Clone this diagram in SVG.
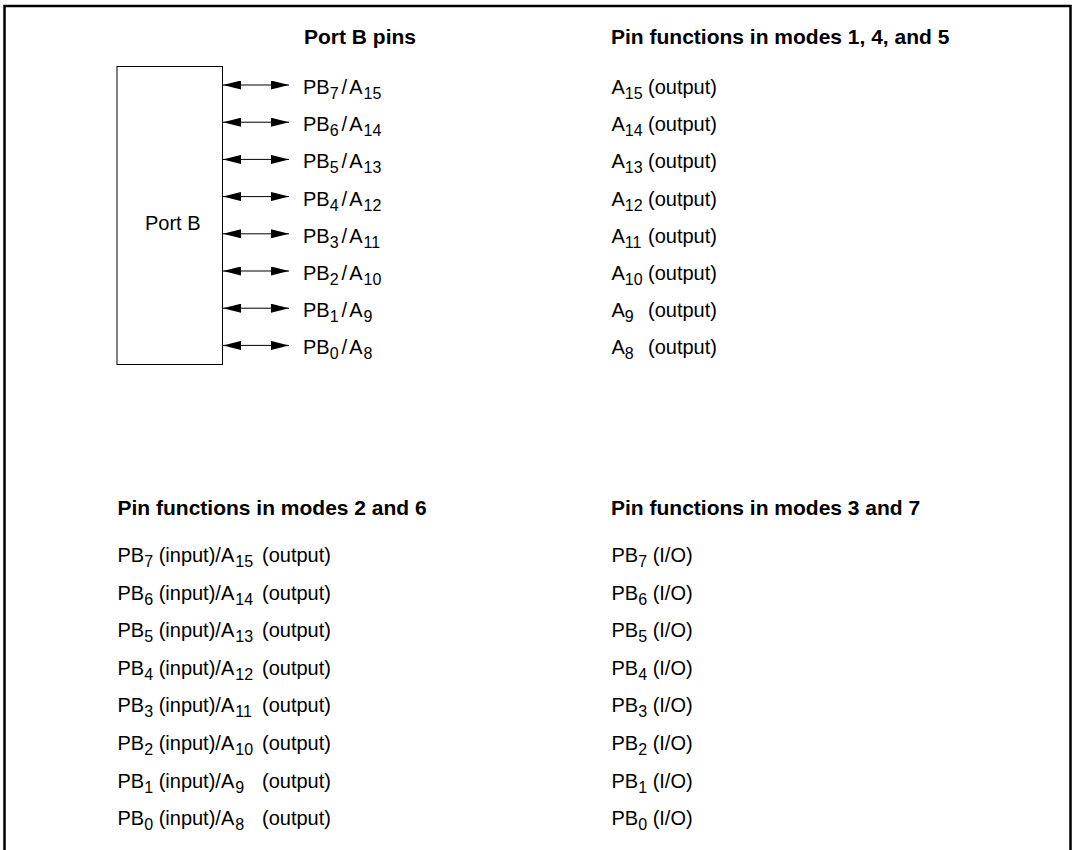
<svg xmlns="http://www.w3.org/2000/svg" width="1074" height="850" viewBox="0 0 1074 850">
<style>
text{font-family:"Liberation Sans",Arial,sans-serif;font-size:20px;fill:#000}
.h{font-weight:bold;font-size:21px}
.s{font-size:16px}
.ln{stroke:#000;stroke-width:1;fill:none}
</style>
<defs>
<marker id="ah" viewBox="0 0 18 9" refX="18" refY="4.5" markerWidth="18" markerHeight="9" markerUnits="userSpaceOnUse" orient="auto-start-reverse">
<path d="M0,0 L18,4.5 L0,9 Z" fill="#000"/>
</marker>
</defs>
<rect width="1074" height="850" fill="#fff"/>
<path d="M4.5,852 V6 H1070.5 V852" fill="none" stroke="#000" stroke-width="2.5"/>
<g id="headings">
<text class="h" x="304" y="44">Port B pins</text>
<text class="h" x="611" y="44">Pin functions in modes 1, 4, and 5</text>
<text class="h" x="117.5" y="515">Pin functions in modes 2 and 6</text>
<text class="h" x="611" y="515">Pin functions in modes 3 and 7</text>
</g>
<g id="portb">
<rect x="117" y="66.5" width="105.5" height="298" class="ln"/>
<text x="145" y="230">Port B</text>
</g>
<g id="connectors">
<line x1="223" y1="85" x2="289" y2="85" class="ln" marker-start="url(#ah)" marker-end="url(#ah)"/>
<line x1="223" y1="122.2" x2="289" y2="122.2" class="ln" marker-start="url(#ah)" marker-end="url(#ah)"/>
<line x1="223" y1="159.4" x2="289" y2="159.4" class="ln" marker-start="url(#ah)" marker-end="url(#ah)"/>
<line x1="223" y1="196.6" x2="289" y2="196.6" class="ln" marker-start="url(#ah)" marker-end="url(#ah)"/>
<line x1="223" y1="233.8" x2="289" y2="233.8" class="ln" marker-start="url(#ah)" marker-end="url(#ah)"/>
<line x1="223" y1="271" x2="289" y2="271" class="ln" marker-start="url(#ah)" marker-end="url(#ah)"/>
<line x1="223" y1="308.2" x2="289" y2="308.2" class="ln" marker-start="url(#ah)" marker-end="url(#ah)"/>
<line x1="223" y1="345.4" x2="289" y2="345.4" class="ln" marker-start="url(#ah)" marker-end="url(#ah)"/>
</g>
<g id="pins">
<text x="303" y="94">PB<tspan class="s" dy="5">7</tspan><tspan dy="-5" dx="3">/</tspan><tspan dx="2">A</tspan><tspan class="s" dy="5" dx="1">15</tspan></text>
<text x="303" y="131.2">PB<tspan class="s" dy="5">6</tspan><tspan dy="-5" dx="3">/</tspan><tspan dx="2">A</tspan><tspan class="s" dy="5" dx="1">14</tspan></text>
<text x="303" y="168.4">PB<tspan class="s" dy="5">5</tspan><tspan dy="-5" dx="3">/</tspan><tspan dx="2">A</tspan><tspan class="s" dy="5" dx="1">13</tspan></text>
<text x="303" y="205.6">PB<tspan class="s" dy="5">4</tspan><tspan dy="-5" dx="3">/</tspan><tspan dx="2">A</tspan><tspan class="s" dy="5" dx="1">12</tspan></text>
<text x="303" y="242.8">PB<tspan class="s" dy="5">3</tspan><tspan dy="-5" dx="3">/</tspan><tspan dx="2">A</tspan><tspan class="s" dy="5" dx="1">11</tspan></text>
<text x="303" y="280">PB<tspan class="s" dy="5">2</tspan><tspan dy="-5" dx="3">/</tspan><tspan dx="2">A</tspan><tspan class="s" dy="5" dx="1">10</tspan></text>
<text x="303" y="317.2">PB<tspan class="s" dy="5">1</tspan><tspan dy="-5" dx="3">/</tspan><tspan dx="2">A</tspan><tspan class="s" dy="5" dx="1">9</tspan></text>
<text x="303" y="354.4">PB<tspan class="s" dy="5">0</tspan><tspan dy="-5" dx="3">/</tspan><tspan dx="2">A</tspan><tspan class="s" dy="5" dx="1">8</tspan></text>
</g>
<g id="modes145">
<text x="611.5" y="94">A<tspan class="s" dy="5">15</tspan><tspan x="648" dy="-5">(output)</tspan></text>
<text x="611.5" y="131.2">A<tspan class="s" dy="5">14</tspan><tspan x="648" dy="-5">(output)</tspan></text>
<text x="611.5" y="168.4">A<tspan class="s" dy="5">13</tspan><tspan x="648" dy="-5">(output)</tspan></text>
<text x="611.5" y="205.6">A<tspan class="s" dy="5">12</tspan><tspan x="648" dy="-5">(output)</tspan></text>
<text x="611.5" y="242.8">A<tspan class="s" dy="5">11</tspan><tspan x="648" dy="-5">(output)</tspan></text>
<text x="611.5" y="280">A<tspan class="s" dy="5">10</tspan><tspan x="648" dy="-5">(output)</tspan></text>
<text x="611.5" y="317.2">A<tspan class="s" dy="5">9</tspan><tspan x="648" dy="-5">(output)</tspan></text>
<text x="611.5" y="354.4">A<tspan class="s" dy="5">8</tspan><tspan x="648" dy="-5">(output)</tspan></text>
</g>
<g id="modes26">
<text x="117.5" y="562">PB<tspan class="s" dy="5">7</tspan><tspan dy="-5"> (input)/A</tspan><tspan class="s" dy="5" dx="1">15</tspan><tspan x="262" dy="-5">(output)</tspan></text>
<text x="117.5" y="599.6">PB<tspan class="s" dy="5">6</tspan><tspan dy="-5"> (input)/A</tspan><tspan class="s" dy="5" dx="1">14</tspan><tspan x="262" dy="-5">(output)</tspan></text>
<text x="117.5" y="637.2">PB<tspan class="s" dy="5">5</tspan><tspan dy="-5"> (input)/A</tspan><tspan class="s" dy="5" dx="1">13</tspan><tspan x="262" dy="-5">(output)</tspan></text>
<text x="117.5" y="674.8">PB<tspan class="s" dy="5">4</tspan><tspan dy="-5"> (input)/A</tspan><tspan class="s" dy="5" dx="1">12</tspan><tspan x="262" dy="-5">(output)</tspan></text>
<text x="117.5" y="712.4">PB<tspan class="s" dy="5">3</tspan><tspan dy="-5"> (input)/A</tspan><tspan class="s" dy="5" dx="1">11</tspan><tspan x="262" dy="-5">(output)</tspan></text>
<text x="117.5" y="750">PB<tspan class="s" dy="5">2</tspan><tspan dy="-5"> (input)/A</tspan><tspan class="s" dy="5" dx="1">10</tspan><tspan x="262" dy="-5">(output)</tspan></text>
<text x="117.5" y="787.6">PB<tspan class="s" dy="5">1</tspan><tspan dy="-5"> (input)/A</tspan><tspan class="s" dy="5" dx="1">9</tspan><tspan x="262" dy="-5">(output)</tspan></text>
<text x="117.5" y="825.2">PB<tspan class="s" dy="5">0</tspan><tspan dy="-5"> (input)/A</tspan><tspan class="s" dy="5" dx="1">8</tspan><tspan x="262" dy="-5">(output)</tspan></text>
</g>
<g id="modes37">
<text x="611.5" y="562">PB<tspan class="s" dy="5">7</tspan><tspan dy="-5"> (I/O)</tspan></text>
<text x="611.5" y="599.6">PB<tspan class="s" dy="5">6</tspan><tspan dy="-5"> (I/O)</tspan></text>
<text x="611.5" y="637.2">PB<tspan class="s" dy="5">5</tspan><tspan dy="-5"> (I/O)</tspan></text>
<text x="611.5" y="674.8">PB<tspan class="s" dy="5">4</tspan><tspan dy="-5"> (I/O)</tspan></text>
<text x="611.5" y="712.4">PB<tspan class="s" dy="5">3</tspan><tspan dy="-5"> (I/O)</tspan></text>
<text x="611.5" y="750">PB<tspan class="s" dy="5">2</tspan><tspan dy="-5"> (I/O)</tspan></text>
<text x="611.5" y="787.6">PB<tspan class="s" dy="5">1</tspan><tspan dy="-5"> (I/O)</tspan></text>
<text x="611.5" y="825.2">PB<tspan class="s" dy="5">0</tspan><tspan dy="-5"> (I/O)</tspan></text>
</g>
</svg>
